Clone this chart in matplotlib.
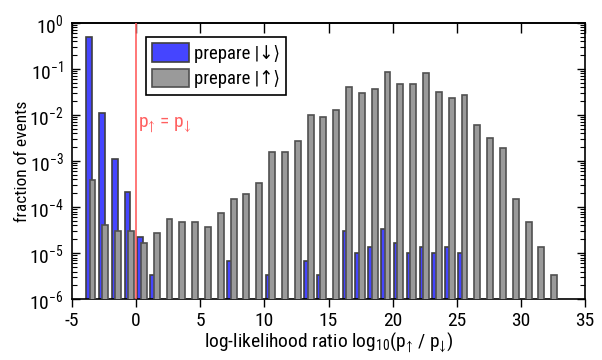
import matplotlib
matplotlib.use("Agg")
import matplotlib.pyplot as plt
import numpy as np

# bin centres of the log-likelihood histogram
bin_centres = [-3.5, -2.5, -1.5, -0.5, 0.5, 1.5, 2.5, 3.5, 4.5, 5.5, 6.5, 7.5,
               8.5, 9.5, 10.5, 11.5, 12.5, 13.5, 14.5, 15.5, 16.5, 17.5, 18.5,
               19.5, 20.5, 21.5, 22.5, 23.5, 24.5, 25.5, 26.5, 27.5, 28.5, 29.5,
               30.5, 31.5, 32.5]

# fraction of events, prepare |down>
frac_down = [0.49, 1.1e-2, 1.1e-3, 2.1e-4, 2.3e-5, 3.4e-6, 0, 0, 0, 0, 0, 6.8e-6,
             0, 0, 3.4e-6, 0, 0, 6.8e-6, 3.4e-6, 0, 3.0e-5, 1.0e-5, 1.35e-5,
             3.4e-5, 1.7e-5, 1.0e-5, 1.35e-5, 1.0e-5, 1.35e-5, 1.0e-5, 0, 0, 0, 0,
             0, 0, 0]

# fraction of events, prepare |up>
frac_up = [3.8e-4, 4.1e-5, 3.0e-5, 3.1e-5, 1.7e-5, 2.7e-5, 5.5e-5, 4.8e-5, 4.8e-5,
           3.7e-5, 7.6e-5, 1.5e-4, 1.9e-4, 3.3e-4, 1.55e-3, 1.55e-3, 2.7e-3,
           1.0e-2, 9.1e-3, 1.3e-2, 4.1e-2, 3.0e-2, 3.6e-2, 8.7e-2, 4.7e-2, 4.7e-2,
           8.3e-2, 3.2e-2, 2.3e-2, 2.75e-2, 5.9e-3, 3.2e-3, 1.95e-3, 1.5e-4,
           4.8e-5, 1.35e-5, 3.4e-6]

xticks = [-5, 0, 5, 10, 15, 20, 25, 30, 35]

FONT = ["Roboto Condensed", "DejaVu Sans"]
plt.rcParams["font.family"] = FONT
plt.rcParams["font.stretch"] = "condensed"
plt.rcParams["font.size"] = 13
plt.rcParams["axes.unicode_minus"] = False
plt.rcParams["mathtext.fontset"] = "custom"
plt.rcParams["mathtext.rm"] = "Roboto Condensed"
plt.rcParams["mathtext.it"] = "Roboto Condensed"
plt.rcParams["mathtext.fallback"] = "stixsans"

fig = plt.figure(figsize=(6.02, 3.6), dpi=100)
ax = fig.add_axes([0.1196, 0.1686, 0.8522, 0.7684])

x = np.array(bin_centres)
floor = 1e-9
down = np.array(frac_down)
up = np.array(frac_up)

ax.bar(x - 0.17, np.where(down > 0, down - floor, 0), width=0.46, bottom=floor,
       color="#4545ff", edgecolor="#404040", linewidth=1.2,
       label="prepare |\u2193\u27e9", zorder=2)
ax.bar(x + 0.1, np.where(up > 0, up - floor, 0), width=0.46, bottom=floor,
       color="#9a9a9a", edgecolor="#505050", linewidth=1.2,
       label="prepare |\u2191\u27e9", zorder=3)

ax.axvline(0, color="#ff6060", linewidth=1.2, zorder=4)
ax.text(0.15, 6.0e-3, "p$_{\u2191}$ = p$_{\u2193}$", color="#ff6060",
        fontsize=14, va="center", ha="left")

ax.set_yscale("log")
ax.set_xlim(-5, 35)
ax.set_ylim(1e-6, 1)
ax.set_xticks(xticks)
ax.set_yticks([10.0 ** k for k in range(-6, 1)])

# bottom ticks point out, y ticks point in on both sides
ax.tick_params(axis="x", direction="out", length=6, width=1, pad=3, labelsize=14)
ax.tick_params(axis="y", which="both", direction="in", right=True, labelsize=14, pad=6)
ax.tick_params(axis="y", which="major", length=6, width=1)
ax.tick_params(axis="y", which="minor", length=3.5, width=0.8)
for s in ax.spines.values():
    s.set_linewidth(1.2)

top = ax.secondary_xaxis("top")
top.set_xticks(xticks)
top.tick_params(direction="in", length=7, width=1, labeltop=False)
top.spines["top"].set_linewidth(1.2)

ax.set_xlabel("log-likelihood ratio log$_{10}$(p$_{\u2191}$ / p$_{\u2193}$)",
              fontsize=14, labelpad=1)
ax.set_ylabel("fraction of events", fontsize=12.5, labelpad=-1)

leg = ax.legend(loc="upper left", bbox_to_anchor=(0.1437, 0.949), borderaxespad=0,
                fancybox=False, edgecolor="black", framealpha=1,
                handlelength=1.95, handleheight=1.15, borderpad=0.35,
                labelspacing=0.3, handletextpad=0.25,
                prop={"family": FONT, "size": 13.5})
leg.get_frame().set_linewidth(1.2)

fig.savefig("out.png", dpi=100)
